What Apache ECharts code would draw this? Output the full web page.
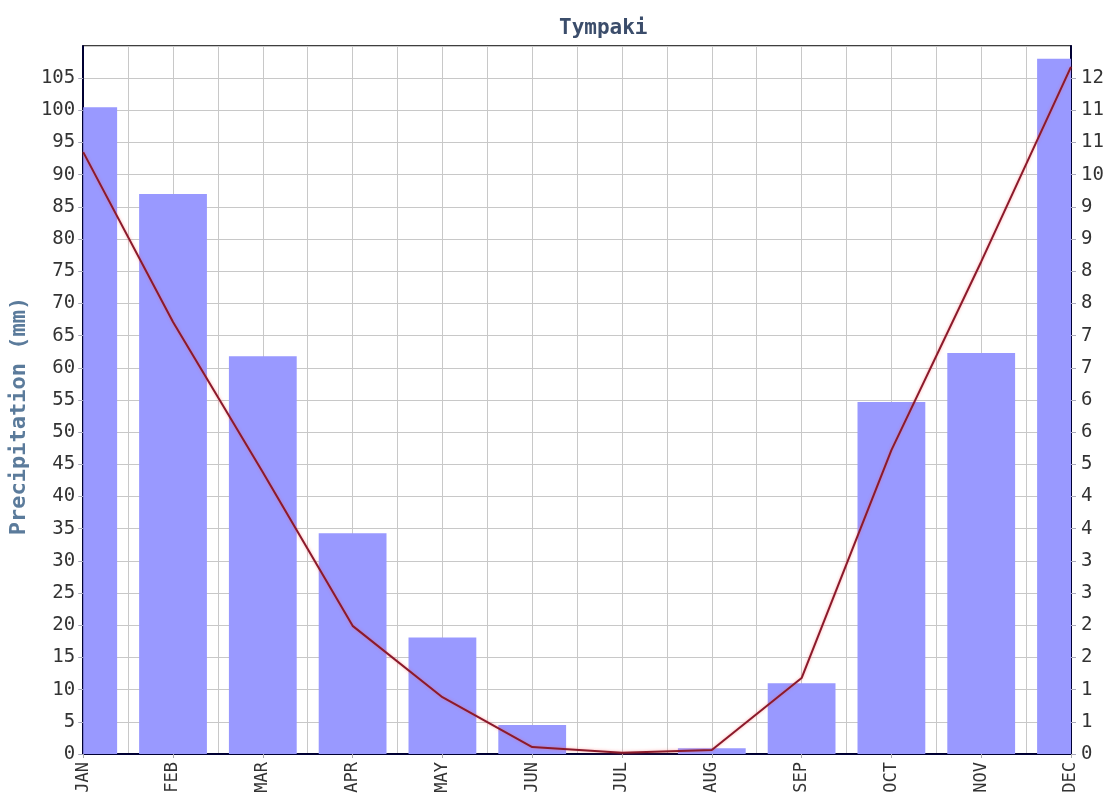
<!DOCTYPE html>
<html><head><meta charset="utf-8">
<script src="https://cdn.jsdelivr.net/npm/echarts@6/dist/echarts.min.js"></script>
<style>html,body{margin:0;padding:0;background:#fff}#c{width:1108px;height:798px}</style>
</head><body><div id="c"></div>
<script>
// ---- data ----
const months = ['JAN','FEB','MAR','APR','MAY','JUN','JUL','AUG','SEP','OCT','NOV','DEC'];
const precipitation = [100.5, 87.0, 61.8, 34.3, 18.1, 4.5, 0, 0.9, 11.0, 54.7, 62.3, 108.0];
const lineValues = [10.38, 7.45, 4.86, 2.21, 0.98, 0.12, 0.02, 0.07, 1.31, 5.24, 8.49, 11.85];
const leftMin = 0, leftMax = 110, leftStep = 5;
const rightMin = 0, rightMax = 12.21, rightStep = 0.555;
const gridSlots = 22; // vertical grid lines every half month

const font = "'DejaVu Sans Mono', 'Liberation Mono', monospace";
const chart = echarts.init(document.getElementById('c'), null, {renderer: 'canvas'});

function renderBar(params, api) {
  const top = api.coord([api.value(0), api.value(1)]);
  const base = api.coord([api.value(0), 0]);
  const w = api.size([1, 0])[0] * 0.755;
  const cs = params.coordSys;
  const shape = echarts.graphic.clipRectByRect(
    {x: top[0] - w / 2, y: top[1], width: w, height: base[1] - top[1]},
    {x: cs.x, y: cs.y, width: cs.width, height: cs.height}
  );
  return shape && {type: 'rect', shape: shape, style: {fill: '#9999ff'}};
}

const option = {
  animation: false,
  backgroundColor: '#fff',
  title: {
    text: 'Tympaki', left: 554, top: 13,
    textStyle: {fontFamily: font, fontWeight: 'bold', fontSize: 21, color: '#3b4d6b'}
  },
  grid: {left: 81, right: 37, top: 46, bottom: 44, show: true, borderColor: '#000', borderWidth: 1.5, backgroundColor: '#fff'},
  xAxis: [
    {
      type: 'category', data: months, boundaryGap: false,
      axisLine: {lineStyle: {color: '#000033', width: 2}},
      axisTick: {show: true, length: 4, lineStyle: {color: '#aaaaaa'}},
      axisLabel: {rotate: 90, margin: 8, fontFamily: font, fontSize: 17, color: '#333'},
      splitLine: {show: false}
    },
    {
      type: 'value', min: 0, max: gridSlots, interval: 1, position: 'bottom',
      axisLine: {show: false}, axisTick: {show: false}, axisLabel: {show: false},
      splitLine: {show: true, lineStyle: {color: '#c8c8c8', width: 1}}
    }
  ],
  yAxis: [
    {
      type: 'value', min: leftMin, max: leftMax, interval: leftStep,
      name: 'Precipitation (mm)', nameLocation: 'middle', nameGap: 48,
      nameTextStyle: {fontFamily: font, fontWeight: 'bold', fontSize: 22, color: '#5b7b9b', padding: [0, 32, 0, 0]},
      axisLine: {show: true, lineStyle: {color: '#000033', width: 2}},
      axisTick: {show: true, length: 5, lineStyle: {color: '#aab'}},
      axisLabel: {showMaxLabel: false, margin: 8, fontFamily: font, fontSize: 19, color: '#333'},
      splitLine: {show: true, lineStyle: {color: '#c8c8c8', width: 1}}
    },
    {
      type: 'value', min: rightMin, max: rightMax, interval: rightStep, position: 'right',
      axisLine: {show: true, lineStyle: {color: '#000033', width: 2}},
      axisTick: {show: true, length: 5, lineStyle: {color: '#aab'}},
      axisLabel: {showMaxLabel: false, margin: 10, fontFamily: font, fontSize: 19, color: '#333',
        formatter: v => String(Math.round(v))},
      splitLine: {show: false}
    }
  ],
  series: [
    {
      type: 'custom', xAxisIndex: 0, yAxisIndex: 0, renderItem: renderBar,
      encode: {x: 0, y: 1}, z: 2,
      data: months.map((m, i) => [i, precipitation[i]])
    },
    {
      type: 'line', data: lineValues, xAxisIndex: 0, yAxisIndex: 1, symbol: 'none', z: 5,
      lineStyle: {color: '#8b1a2b', width: 2, shadowColor: 'rgba(255,80,80,0.5)', shadowBlur: 3}
    }
  ]
};
chart.setOption(option);
</script>
</body></html>
